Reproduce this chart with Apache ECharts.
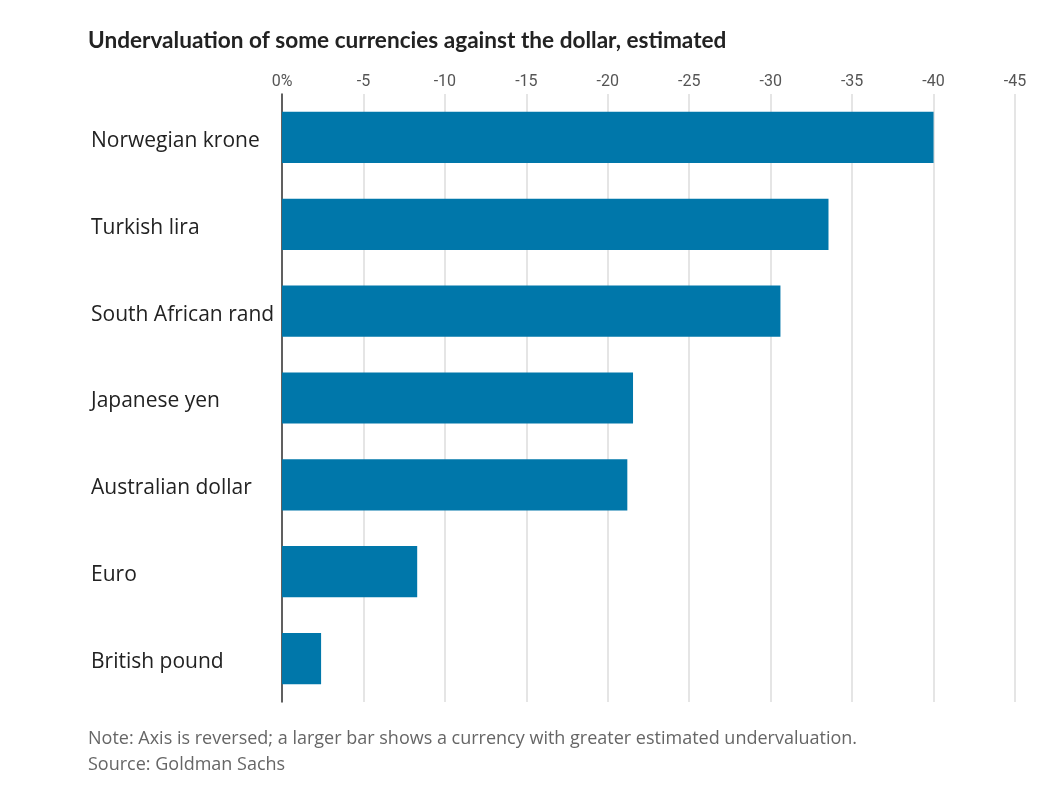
<!DOCTYPE html>
<html>
<head>
<meta charset="utf-8">
<script src="https://cdn.jsdelivr.net/npm/echarts@6/dist/echarts.min.js"></script>
<style>
html,body{margin:0;padding:0;background:#fff;}
#c{width:1041px;height:793px;}
</style>
</head>
<body>
<div id="c"></div>
<script>
const categories = ['Norwegian krone','Turkish lira','South African rand','Japanese yen','Australian dollar','Euro','British pound'];
const values = [-40, -33.55, -30.6, -21.55, -21.2, -8.3, -2.4];
const titleText = 'Undervaluation of some currencies against the dollar, estimated';
const noteText = 'Note: Axis is reversed; a larger bar shows a currency with greater estimated undervaluation.';
const sourceText = 'Source: Goldman Sachs';

const chart = echarts.init(document.getElementById('c'), null, {renderer:'canvas'});
chart.setOption({
  backgroundColor:'#fff',
  animation:false,
  title:{
    text:titleText, left:88, top:29, padding:0,
    textStyle:{fontFamily:'Lato', fontWeight:'bold', fontSize:22.6, color:'#222'}
  },
  grid:{left:282, right:26, top:94, bottom:91, containLabel:false},
  xAxis:{
    type:'value', position:'top', inverse:true,
    min:-45, max:0, interval:5,
    axisLine:{show:false}, axisTick:{show:false},
    splitLine:{show:true, lineStyle:{color:'#dddddd', width:1.5}},
    axisLabel:{
      margin:4, color:'#555', fontFamily:'Roboto', fontSize:16,
      formatter:function(v){ return v===0 ? '0%' : String(v); }
    }
  },
  yAxis:{
    type:'category', data:categories, inverse:true,
    axisLine:{show:true, lineStyle:{color:'#333', width:1.5}},
    axisTick:{show:false},
    axisLabel:{
      align:'left', margin:191,
      formatter:function(v){ return '{a|' + v + '}'; },
      rich:{a:{padding:[7,0,0,0], color:'#222', fontFamily:'Open Sans', fontSize:21}}
    }
  },
  series:[{
    type:'bar', data:values, barCategoryGap:'41%',
    itemStyle:{color:'#0077aa'}
  }],
  graphic:[
    {type:'text', left:88, top:730, style:{text:noteText, fill:'#666', font:'18px "Open Sans"'}},
    {type:'text', left:88, top:756, style:{text:sourceText, fill:'#666', font:'18px "Open Sans"'}}
  ]
});
</script>
</body>
</html>
